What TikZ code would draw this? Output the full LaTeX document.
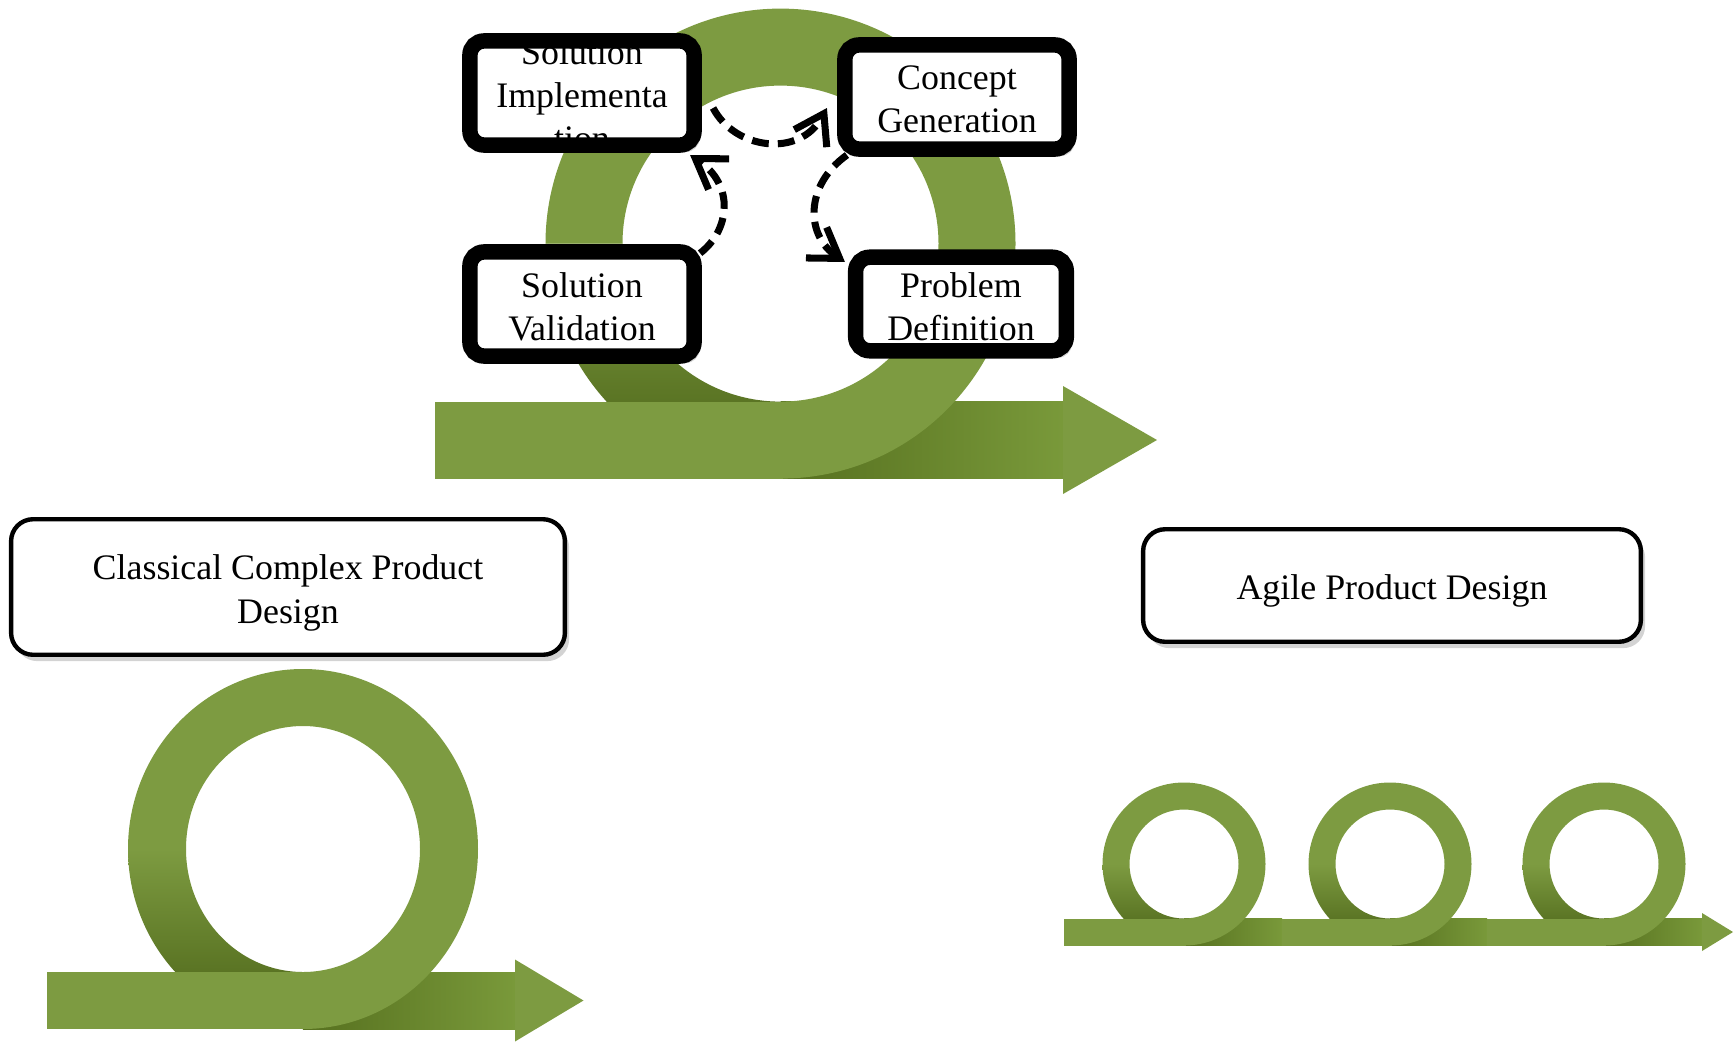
\documentclass[tikz,border=0pt]{standalone}
\usepackage{fontspec}
\setmainfont{Liberation Serif}
\usetikzlibrary{arrows.meta,shadows,calc}
\definecolor{gmain}{HTML}{7D9B41}
\definecolor{gdark}{HTML}{56701F}
\definecolor{gdeep}{HTML}{4A6216}
\definecolor{gend}{HTML}{79993A}
% #1 cx, #2 cy, #3 outer x radius, #4 outer y radius, #5 inner x radius, #6 inner y radius,
% #7 bar left x, #8 bar right x
\newcommand\greenloop[8]{%
  \shade[left color=gdark, right color=gend] ({#1},{#2+#6}) rectangle ({#8},{#2+#4});
  \shade[top color=gmain, bottom color=gdeep]
    ({#1-#3},{#2}) arc[start angle=180,end angle=90,x radius=#3,y radius=#4]
    -- ({#1},{#2+#6}) arc[start angle=90,end angle=180,x radius=#5,y radius=#6] -- cycle;
  \fill[gmain] ({#7},{#2+#6}) rectangle ({#1+2},{#2+#4});
  \fill[gmain] ({#1},{#2+#4}) arc[start angle=90,end angle=-180,x radius=#3,y radius=#4]
    -- ({#1-#5},{#2}) arc[start angle=-180,end angle=90,x radius=#5,y radius=#6] -- cycle;
}
% #1 base x, #2 centre y, #3 half height, #4 tip x
\newcommand\greenhead[4]{%
  \fill[gmain] ({#1},{#2-#3}) -- ({#4},{#2}) -- ({#1},{#2+#3}) -- cycle;
}
\begin{document}
\begin{tikzpicture}[x=0.01cm,y=-0.01cm,
  topbox/.style={draw=black, line width=4.4pt, fill=white, rounded corners=0.14cm,
    inner sep=0pt, outer sep=0pt, minimum width=2.24cm, minimum height=1.04cm,
    drop shadow={shadow xshift=1.6pt, shadow yshift=-2pt, opacity=0.35}},
  toptext/.style={align=center, inner sep=0pt, font=\fontsize{10.2}{12.2}\selectfont},
  bigbox/.style={draw=black, line width=1.25pt, fill=white, rounded corners=0.22cm,
    inner sep=0pt, outer sep=0pt,
    drop shadow={shadow xshift=1.2pt, shadow yshift=-1.8pt, opacity=0.35}},
  bigtext/.style={align=center, inner sep=0pt, font=\fontsize{10.2}{12.5}\selectfont},
  flow/.style={line width=2pt, dash pattern=on 4.8pt off 2.6pt,
    -{Straight Barb[length=8pt,width=10.5pt]}}]
\useasboundingbox (0,0) rectangle (1736,1042);

% top loop
\greenloop{780.5}{243.6}{235}{235}{158}{158}{435}{1063}
\greenhead{1063}{440}{54}{1157}

% bottom-left loop
\greenloop{303}{849}{175}{180}{117}{123}{46.5}{515}
\greenhead{515}{1000.5}{41}{583.5}

% bottom-right loops
\greenloop{1184}{864}{81.5}{81.5}{54.5}{54.5}{1064}{1282}
\greenloop{1390}{864}{81.5}{81.5}{54.5}{54.5}{1282}{1487}
\greenloop{1604}{864}{81.5}{81.5}{54.5}{54.5}{1487}{1702}
\greenhead{1702}{932}{19}{1733}

% top boxes
\node[topbox] (SI) at (582,93) {};
\node[topbox] (CG) at (957,97) {};
\node[topbox] (SV) at (582,304) {};
\node[topbox, minimum width=2.105cm, minimum height=0.935cm] (PD) at (961,304) {};

\begin{scope}
  \clip ($(SI.south west)+(7.75,-7.75)$) rectangle ($(SI.north east)+(-7.75,7.75)$);
  \node[toptext] (SIt) at ($(SI.center)+(0,2.5)$) {Solution\\Implementa\\tion};
\end{scope}
\node[toptext] (CGt) at ($(CG.center)+(0,2.5)$) {Concept\\Generation};
\node[toptext] (SVt) at ($(SV.center)+(0,2.5)$) {Solution\\Validation};
\node[toptext] (PDt) at ($(PD.center)+(0,2.5)$) {Problem\\Definition};

% dashed cycle arrows
\draw[flow] ($(SI.east)+(19,15)$) .. controls +(22,42) and +(-27,50) .. ($(CG.west)+(-18,11)$);
\draw[flow] ($(CG.south west)+(2,6)$) .. controls +(-42,30) and +(-40,-27) .. ($(PD.north west)+(-10.75,4.75)$);
\draw[flow] ($(SV.north east)+(6,1.2)$) .. controls +(30,-23) and +(45,30) .. ($(SI.south east)+(-4,10)$);

% big labels
\node[bigbox, minimum width=5.535cm, minimum height=1.355cm] (CCPD) at (288,587) {};
\node[bigtext] (CCPDt) at ($(CCPD.center)+(0,5.5)$) {Classical Complex Product\\Design};
\node[bigbox, minimum width=4.975cm, minimum height=1.125cm] (APD) at (1392,585.5) {};
\node[bigtext] (APDt) at ($(APD.center)+(0,5.5)$) {Agile Product Design};
\end{tikzpicture}
\end{document}
